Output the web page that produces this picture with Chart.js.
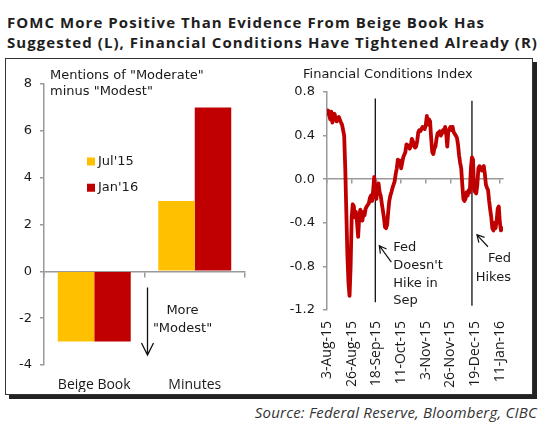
<!DOCTYPE html>
<html><head><meta charset="utf-8">
<script src="https://cdn.jsdelivr.net/npm/chart.js@4.4.1/dist/chart.umd.min.js"></script>
<style>
html,body{margin:0;padding:0;background:#fff;width:548px;height:428px;overflow:hidden}
#title{position:absolute;left:7px;top:12px;font:bold 15px "Open Sans";color:#1e1e1e;line-height:20px;white-space:nowrap}
#title div{display:block}
#frame{position:absolute;left:5px;top:58px;width:526px;height:335px;border:1px solid #333;box-shadow:4px 4px 0 #222}
#c1{position:absolute;left:8px;top:62px}
#c2{position:absolute;left:270px;top:62px}
#source{position:absolute;right:11px;top:402px;font:italic 15px "Open Sans";color:#333;white-space:nowrap;letter-spacing:0.2px}
</style></head>
<body>
<div id="title"><div id="t1">FOMC More Positive Than Evidence From Beige Book Has</div><div id="t2">Suggested (L), Financial Conditions Have Tightened Already (R)</div></div>
<div id="frame"></div>
<canvas id="c1" width="258" height="330"></canvas>
<canvas id="c2" width="258" height="330"></canvas>
<div id="source">Source: Federal Reserve, Bloomberg, CIBC</div>
<script>
// ---------- data (left) ----------
const categories = ['Beige Book', 'Minutes'];
const seriesLabels = ["Jul'15", "Jan'16"];
const jul15 = [-3, 3];
const jan16 = [-3, 7];
const leftAxisTitle = ['Mentions of "Moderate"', 'minus "Modest"'];
const leftNote = ['More', '"Modest"'];

// ---------- data (right) ----------
const rightAxisTitle = 'Financial Conditions Index';
const xTickDates = ['2015-08-03','2015-08-26','2015-09-18','2015-10-11','2015-11-03','2015-11-26','2015-12-19','2016-01-11'];
const xTickLabels = ['3-Aug-15','26-Aug-15','18-Sep-15','11-Oct-15','3-Nov-15','26-Nov-15','19-Dec-15','11-Jan-16'];
const fciDates = [
'2015-08-03','2015-08-04','2015-08-06','2015-08-07','2015-08-08','2015-08-10','2015-08-12','2015-08-14','2015-08-16','2015-08-17',
'2015-08-19','2015-08-20','2015-08-21','2015-08-22','2015-08-23','2015-08-24','2015-08-25','2015-08-26','2015-08-27','2015-08-28',
'2015-08-29','2015-08-30','2015-08-31','2015-09-01','2015-09-02','2015-09-03','2015-09-04','2015-09-05','2015-09-06','2015-09-07',
'2015-09-08','2015-09-09','2015-09-11','2015-09-12','2015-09-13','2015-09-14','2015-09-15','2015-09-16','2015-09-17','2015-09-18',
'2015-09-19','2015-09-20','2015-09-21','2015-09-22','2015-09-23','2015-09-25','2015-09-26','2015-09-27','2015-09-28','2015-09-29',
'2015-09-30','2015-10-01','2015-10-02','2015-10-03','2015-10-05','2015-10-06','2015-10-07','2015-10-08','2015-10-09','2015-10-10',
'2015-10-11','2015-10-12','2015-10-13','2015-10-15','2015-10-16','2015-10-17','2015-10-18','2015-10-19','2015-10-20','2015-10-21',
'2015-10-22','2015-10-24','2015-10-25','2015-10-26','2015-10-27','2015-10-28','2015-10-29','2015-10-30','2015-10-31','2015-11-02',
'2015-11-03','2015-11-04','2015-11-05','2015-11-06','2015-11-07','2015-11-08','2015-11-09','2015-11-10','2015-11-11','2015-11-12',
'2015-11-13','2015-11-14','2015-11-16','2015-11-17','2015-11-18','2015-11-19','2015-11-20','2015-11-21','2015-11-22','2015-11-23',
'2015-11-24','2015-11-26','2015-11-27','2015-11-28','2015-11-29','2015-12-01','2015-12-02','2015-12-03','2015-12-04','2015-12-05',
'2015-12-06','2015-12-07','2015-12-08','2015-12-09','2015-12-10','2015-12-11','2015-12-12','2015-12-13','2015-12-14','2015-12-15',
'2015-12-16','2015-12-17','2015-12-18','2015-12-19','2015-12-20','2015-12-21','2015-12-22','2015-12-23','2015-12-24','2015-12-25',
'2015-12-26','2015-12-27','2015-12-28','2015-12-29','2015-12-30','2015-12-31','2016-01-01','2016-01-02','2016-01-03','2016-01-04',
'2016-01-05','2016-01-06','2016-01-07','2016-01-08','2016-01-09','2016-01-10','2016-01-11','2016-01-12','2016-01-13'];
const fciValues = [
0.60,0.63,0.55,0.62,0.52,0.60,0.53,0.57,0.52,0.50,
0.40,0.10,-0.30,-0.70,-0.95,-1.07,-0.80,-0.35,-0.23,-0.25,
-0.35,-0.30,-0.40,-0.53,-0.35,-0.28,-0.32,-0.38,-0.30,-0.33,
-0.27,-0.25,-0.22,-0.17,-0.15,-0.20,-0.10,0.02,-0.15,-0.18,
-0.06,-0.04,-0.12,-0.15,-0.22,-0.35,-0.44,-0.45,-0.42,-0.30,
-0.20,-0.15,-0.12,-0.08,-0.02,0.05,0.10,0.18,0.15,0.17,
0.10,0.15,0.20,0.25,0.32,0.30,0.31,0.28,0.30,0.37,
0.35,0.29,0.30,0.35,0.43,0.45,0.44,0.46,0.48,0.46,
0.50,0.58,0.50,0.55,0.53,0.38,0.25,0.23,0.28,0.30,
0.37,0.42,0.44,0.40,0.42,0.45,0.43,0.48,0.42,0.30,
0.44,0.48,0.45,0.48,0.43,0.40,0.38,0.32,0.22,0.15,
0.10,-0.05,-0.18,-0.20,-0.18,-0.12,-0.15,-0.10,-0.12,0.10,
0.20,0.18,-0.10,-0.12,-0.13,-0.05,0.10,0.12,0.10,0.08,
0.11,0.12,0.05,-0.05,-0.08,-0.10,-0.20,-0.28,-0.35,-0.45,
-0.47,-0.40,-0.45,-0.38,-0.27,-0.25,-0.40,-0.47,-0.45];
const fedEvents = [
  {date:'2015-09-17', top:0.74, bottom:-1.13, text:['Fed',"Doesn't",'Hike in','Sep']},
  {date:'2015-12-16', top:0.72, bottom:-1.16, text:['Fed','Hikes']}
];

// ---------- helpers ----------
const BASE = Date.UTC(2015,7,3);
function dayOf(iso){const [y,m,d]=iso.split('-').map(Number);return (Date.UTC(y,m-1,d)-BASE)/86400000;}
const TAHOMA = '"DejaVu Sans", sans-serif';
const FRUT = '"Open Sans", sans-serif';
const TXT = '#1a1a1a';
const AX = '#9a9a9a';

function arrow(ctx, x1, y1, x2, y2, head){
  const a = Math.atan2(y2-y1, x2-x1);
  ctx.beginPath();
  ctx.moveTo(x1,y1); ctx.lineTo(x2,y2);
  ctx.moveTo(x2 - head*Math.cos(a-0.5), y2 - head*Math.sin(a-0.5));
  ctx.lineTo(x2,y2);
  ctx.lineTo(x2 - head*Math.cos(a+0.5), y2 - head*Math.sin(a+0.5));
  ctx.stroke();
}

// ---------- left chart ----------
const leftAnnot = {
  id:'leftAnnot',
  afterDatasetsDraw(chart){
    const {ctx, chartArea, scales:{x,y}} = chart;
    ctx.save();
    ctx.fillStyle = TXT; ctx.font = '13px '+TAHOMA; ctx.textBaseline='middle'; ctx.textAlign='left';
    ctx.fillText(leftAxisTitle[0], chartArea.left+6, chartArea.top-8);
    ctx.fillText(leftAxisTitle[1], chartArea.left+6, chartArea.top+8);
    // legend
    const ly = [y.getPixelForValue(4.69), y.getPixelForValue(3.57)];
    chart.data.datasets.forEach((ds,i)=>{
      ctx.fillStyle = ds.backgroundColor;
      ctx.fillRect(chartArea.left+43, ly[i]-4, 8, 8);
      ctx.fillStyle = TXT;
      ctx.fillText(ds.label, chartArea.left+54, ly[i]);
    });
    // arrow "More Modest"
    const bx = (x.getPixelForValue(0)+x.getPixelForValue(1))/2 + 3;
    ctx.strokeStyle = '#111'; ctx.lineWidth = 1.3;
    const y1 = y.getPixelForValue(-0.69), y2 = y.getPixelForValue(-3.57);
    ctx.beginPath(); ctx.moveTo(bx,y1); ctx.lineTo(bx,y2);
    ctx.moveTo(bx-6,y2-12); ctx.lineTo(bx,y2); ctx.lineTo(bx+6,y2-12); ctx.stroke();
    ctx.textAlign='center';
    ctx.fillText(leftNote[0], bx+35, y.getPixelForValue(-1.68));
    ctx.fillText(leftNote[1], bx+35, y.getPixelForValue(-2.45));
    ctx.restore();
  }
};

new Chart(document.getElementById('c1'), {
  type:'bar',
  data:{labels:categories, datasets:[
    {label:seriesLabels[0], data:jul15, backgroundColor:'#FFC000', categoryPercentage:0.726, barPercentage:1.0, xAxisID:'x'},
    {label:seriesLabels[1], data:jan16, backgroundColor:'#C00000', categoryPercentage:0.726, barPercentage:1.0, xAxisID:'x'}
  ]},
  options:{
    responsive:false, animation:false, events:[],
    layout:{padding:{left:0,right:21,top:22,bottom:0}},
    plugins:{legend:{display:false}, tooltip:{enabled:false}},
    scales:{
      x:{type:'category', position:{y:0}, offset:true,
         grid:{display:true, offset:true, drawOnChartArea:false, drawTicks:true, tickLength:5, color:AX, lineWidth:1.5},
         border:{display:true, color:AX, width:1.5}, ticks:{display:false}},
      x2:{type:'category', labels:categories, position:'bottom', offset:true,
         grid:{display:false, drawTicks:false}, border:{display:false},
         ticks:{font:{family:FRUT,size:14}, color:TXT, padding:12},
         afterFit(s){s.height=27;}},
      y:{min:-4, max:8, ticks:{stepSize:2, font:{family:TAHOMA,size:13}, color:TXT, padding:8},
         grid:{display:true, drawOnChartArea:false, drawTicks:true, tickLength:4, color:AX, lineWidth:1.5},
         border:{color:AX, width:1.5},
         afterFit(s){s.width=36;}}
    }
  },
  plugins:[leftAnnot]
});

// ---------- right chart ----------
const tickVals = xTickDates.map(dayOf);
const rightAnnot = {
  id:'rightAnnot',
  afterDatasetsDraw(chart){
    const {ctx, chartArea, scales:{x,y}} = chart;
    ctx.save();
    ctx.fillStyle = TXT; ctx.font = '13px '+TAHOMA; ctx.textBaseline='middle'; ctx.textAlign='left';
    ctx.fillText(rightAxisTitle, chartArea.left-24, chartArea.top-17);
    ctx.strokeStyle = '#111'; ctx.lineWidth = 1.2;
    // event 1
    const X1 = x.getPixelForValue(dayOf(fedEvents[0].date));
    let ty = y.getPixelForValue(-0.63);
    fedEvents[0].text.forEach((t,i)=>ctx.fillText(t, X1+18, ty + i*17.7));
    arrow(ctx, X1+16, y.getPixelForValue(-0.76), X1+4, y.getPixelForValue(-0.61), 8);
    // event 2
    const X2 = x.getPixelForValue(dayOf(fedEvents[1].date));
    ctx.textAlign='right';
    ctx.fillText(fedEvents[1].text[0], X2+39, y.getPixelForValue(-0.725));
    ctx.fillText(fedEvents[1].text[1], X2+39, y.getPixelForValue(-0.90));
    arrow(ctx, X2+16, y.getPixelForValue(-0.62), X2+5, y.getPixelForValue(-0.51), 8);
    ctx.restore();
  }
};

const setTicks = s => { s.ticks = tickVals.map(v=>({value:v})); };
const eventSets = fedEvents.map(e=>({
  type:'line', data:[{x:dayOf(e.date),y:e.top},{x:dayOf(e.date),y:e.bottom}],
  borderColor:'#111', borderWidth:1.3, pointRadius:0, xAxisID:'x'
}));

new Chart(document.getElementById('c2'), {
  type:'line',
  data:{datasets:[
    {label:rightAxisTitle, data:fciDates.map((d,i)=>({x:dayOf(d), y:fciValues[i]})),
     borderColor:'#C00000', borderWidth:3.8, pointRadius:0, tension:0, xAxisID:'x', borderJoinStyle:'round', borderCapStyle:'round'},
    ...eventSets
  ]},
  options:{
    responsive:false, animation:false, events:[],
    layout:{padding:{left:0,right:18,top:30,bottom:0}},
    plugins:{legend:{display:false}, tooltip:{enabled:false}},
    scales:{
      x:{type:'linear', position:{y:0}, min:0, max:164, afterBuildTicks:setTicks,
         grid:{display:true, drawOnChartArea:false, drawTicks:true, tickLength:4, color:AX, lineWidth:1.5},
         border:{display:true, color:AX, width:1.5}, ticks:{display:false}},
      x2:{type:'linear', position:'bottom', min:0, max:164, afterBuildTicks:setTicks,
         grid:{display:false, drawTicks:false}, border:{display:false},
         ticks:{autoSkip:false, minRotation:90, maxRotation:90, font:{family:FRUT,size:14}, color:TXT, padding:11,
                callback:(v,i)=>xTickLabels[i]},
         afterFit(s){s.height=82;}},
      y:{min:-1.2, max:0.8, ticks:{stepSize:0.4, font:{family:TAHOMA,size:13}, color:TXT, padding:8,
            callback:v=>(Math.abs(v)<1e-9?0:v).toFixed(1)},
         grid:{display:true, drawOnChartArea:false, drawTicks:true, tickLength:4, color:AX, lineWidth:1.5},
         border:{color:AX, width:1.5},
         afterFit(s){s.width=57;}}
    }
  },
  plugins:[rightAnnot]
});

// fit title line widths to the reference
(function(){
  const target = 531;
  ['t1','t2'].forEach(id=>{
    const el = document.getElementById(id);
    const sp = document.createElement('span'); sp.textContent = el.textContent; el.textContent=''; el.appendChild(sp);
  });
  const s2 = document.querySelector('#t2 span');
  const w = s2.getBoundingClientRect().width;
  const n = s2.textContent.length;
  const ls = (target - w)/n;
  document.getElementById('title').style.letterSpacing = ls.toFixed(2)+'px';
})();
</script>
</body></html>
